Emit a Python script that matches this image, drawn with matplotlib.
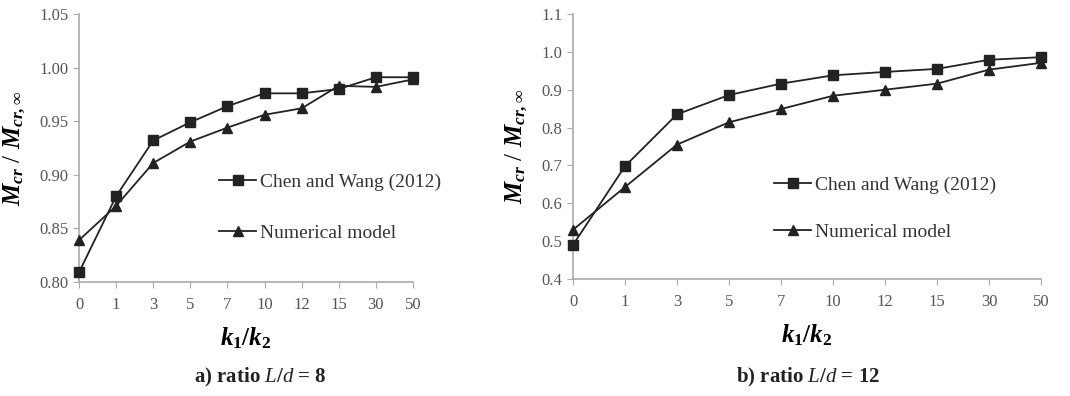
import matplotlib
matplotlib.use("Agg")
import matplotlib.pyplot as plt

plt.rcParams['font.family'] = ['Liberation Serif', 'DejaVu Serif']
plt.rcParams['mathtext.fontset'] = 'custom'
plt.rcParams['mathtext.it'] = 'Liberation Serif:italic:bold'
plt.rcParams['mathtext.rm'] = 'Liberation Serif:bold'
plt.rcParams['mathtext.bf'] = 'Liberation Serif:bold'
# plain italic, used for L/d in the captions
plt.rcParams['mathtext.sf'] = 'Liberation Serif:italic'

ratios = ['0', '1', '3', '5', '7', '10', '12', '15', '30', '50']

chen_a = [0.809, 0.880, 0.932, 0.949, 0.964, 0.976, 0.976, 0.980, 0.991, 0.991]
num_a = [0.839, 0.871, 0.911, 0.931, 0.944, 0.956, 0.962, 0.983, 0.982, 0.989]

chen_b = [0.490, 0.698, 0.835, 0.886, 0.916, 0.938, 0.947, 0.955, 0.979, 0.986]
num_b = [0.530, 0.643, 0.755, 0.814, 0.849, 0.884, 0.900, 0.916, 0.953, 0.971]

ylim_a = (0.80, 1.05)
ylim_b = (0.4, 1.1)
yticks_a = [0.80, 0.85, 0.90, 0.95, 1.00, 1.05]
yticks_b = [0.4, 0.5, 0.6, 0.7, 0.8, 0.9, 1.0, 1.1]

fig = plt.figure(figsize=(10.7, 3.96), dpi=100)
W, H = 1070, 396


def make_axes(px_left, px_right, px_top, px_bottom):
    return fig.add_axes([px_left / W, 1 - px_bottom / H,
                         (px_right - px_left) / W, (px_bottom - px_top) / H])


def draw(ax, chen, num, ylim, yticks, yfmt, leg_anchor, spacing, caption, cap_x):
    xs = list(range(len(ratios)))
    ax.plot(xs, chen, color='#222222', lw=1.3, marker='s', ms=6.5,
            clip_on=False, zorder=3, label='Chen and Wang (2012)')
    ax.plot(xs, num, color='#222222', lw=1.3, marker='^', ms=6.5,
            clip_on=False, zorder=3, label='Numerical model')
    ax.set_xlim(0, len(ratios) - 1)
    ax.set_ylim(*ylim)
    ax.set_xticks(xs)
    ax.set_xticklabels(ratios)
    ax.set_yticks(yticks)
    ax.set_yticklabels([yfmt.format(v) for v in yticks])
    for s in ['top', 'right']:
        ax.spines[s].set_visible(False)
    for s in ['left', 'bottom']:
        ax.spines[s].set_color('#aaaaaa')
        ax.spines[s].set_linewidth(1.2)
    ax.tick_params(colors='#aaaaaa', labelcolor='#555555', labelsize=12,
                   length=4, direction='out')
    ax.tick_params(axis='x', pad=7)
    ax.set_xlabel(r'$k_\mathrm{1}/k_\mathrm{2}$', fontsize=18, labelpad=9)
    ax.set_ylabel(r'$M_{cr}$ / $M_{cr,\infty}$', fontsize=18, labelpad=8)
    leg = ax.legend(loc='center left', bbox_to_anchor=leg_anchor, frameon=False,
                    fontsize=14, handlelength=1.9, handletextpad=0.2,
                    labelspacing=spacing, borderaxespad=0, borderpad=0)
    for t in leg.get_texts():
        t.set_color('#333333')
    fig.text(cap_x / W, 1 - 377 / H, caption, ha='center', va='center',
             fontsize=15, fontweight='bold', color='#222222')


ax1 = make_axes(79, 413, 14, 282)
draw(ax1, chen_a, num_a, ylim_a, yticks_a, '{:.2f}', (0.42, 0.278), 1.75,
     r'a) ratio $\mathsf{L}$/$\mathsf{d}$ = 8', 260)

ax2 = make_axes(573, 1041, 14, 279)
draw(ax2, chen_b, num_b, ylim_b, yticks_b, '{:.1f}', (0.43, 0.266), 1.5,
     r'b) ratio $\mathsf{L}$/$\mathsf{d}$ = 12', 808)

fig.savefig('out.png', dpi=100)
